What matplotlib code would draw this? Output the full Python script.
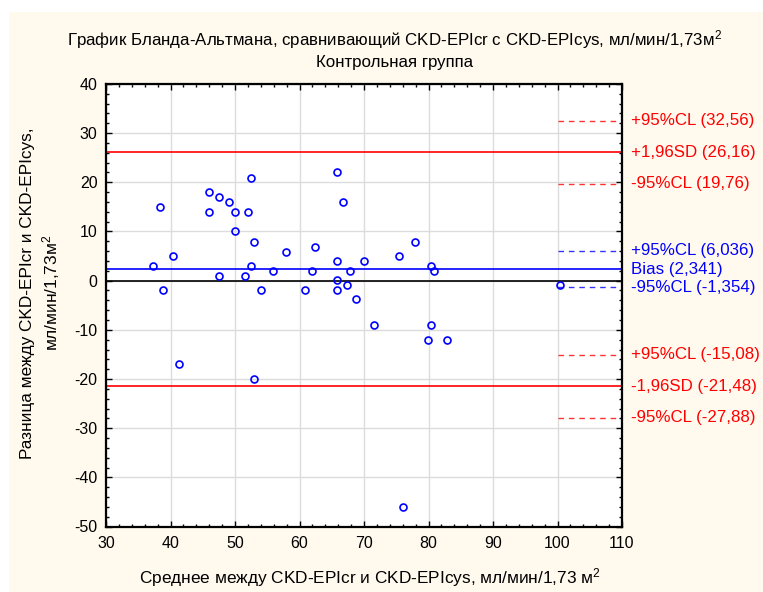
import matplotlib
matplotlib.use("Agg")
import matplotlib.pyplot as plt
from matplotlib.patches import Rectangle
from matplotlib.ticker import MultipleLocator

plt.rcParams['font.family'] = ['Liberation Sans', 'DejaVu Sans']
plt.rcParams['mathtext.fontset'] = 'custom'
plt.rcParams['mathtext.rm'] = 'Liberation Sans'
plt.rcParams['mathtext.it'] = 'Liberation Sans:italic'
plt.rcParams['axes.unicode_minus'] = False

# Data (means, differences)
mean_vals = [37.3, 38.3, 38.9, 40.4, 46.0, 46.0, 47.5, 47.5, 49.0, 50.0, 50.0, 51.5,
             52.0, 52.5, 52.5, 52.9, 54.0, 55.9, 57.9, 60.9, 61.9, 62.4, 65.8, 65.8,
             65.8, 65.8, 66.8, 67.3, 67.8, 68.8, 70.0, 75.5, 77.9, 80.4, 80.9,
             41.3, 52.9, 71.5, 80.4, 79.9, 82.9, 76.0, 100.4]
diff_vals = [3.0, 15.0, -1.9, 5.0, 18.0, 14.0, 17.0, 1.0, 16.0, 14.0, 10.1, 1.0,
             14.0, 20.9, 3.0, 7.9, -1.9, 2.0, 5.9, -1.9, 2.0, 6.9, 22.2, 3.9,
             0.1, -1.9, 16.0, -0.9, 2.0, -3.8, 3.9, 5.0, 7.9, 3.0, 2.0,
             -16.9, -20.1, -9.1, -9.1, -12.0, -12.0, -46.1, -0.9]

bias = 2.341
upper_sd = 26.16
lower_sd = -21.48
ci_values = [32.56, 19.76, 6.036, -1.354, -15.08, -27.88]
ci_colors = ['red', 'red', 'blue', 'blue', 'red', 'red']

label_values = [32.56, 26.16, 19.76, 6.036, 2.341, -1.354, -15.08, -21.48, -27.88]
label_texts = ['+95%CL (32,56)', '+1,96SD (26,16)', '-95%CL (19,76)',
               '+95%CL (6,036)', 'Bias (2,341)', '-95%CL (-1,354)',
               '+95%CL (-15,08)', '-1,96SD (-21,48)', '-95%CL (-27,88)']
label_colors = ['red', 'red', 'red', 'blue', 'blue', 'blue', 'red', 'red', 'red']

cream = '#FFF9EE'
fig = plt.figure(figsize=(7.63, 5.92), dpi=100, facecolor='white')
fig.patches.append(Rectangle((9/763, 0), 1, 1 - 12/592, transform=fig.transFigure,
                             facecolor=cream, edgecolor='none', zorder=-10))

ax = fig.add_axes([106/763, 1 - 526.5/592, (622 - 106)/763, (526.5 - 84)/592])
ax.set_facecolor('white')
ax.set_xlim(30, 110)
ax.set_ylim(-50, 40)
ax.xaxis.set_major_locator(MultipleLocator(10))
ax.yaxis.set_major_locator(MultipleLocator(10))
ax.xaxis.set_minor_locator(MultipleLocator(2))
ax.yaxis.set_minor_locator(MultipleLocator(2))
ax.grid(True, which='major', color='#DCDCDC', linewidth=1.0, zorder=0)
ax.set_axisbelow(True)
ax.tick_params(which='both', direction='in', top=True, right=True, labelsize=11.5,
               colors='black', width=1.0)
ax.tick_params(which='major', length=4)
ax.tick_params(which='minor', length=2.5)
ax.tick_params(axis='x', pad=7)
ax.tick_params(axis='y', pad=6)
for s in ax.spines.values():
    s.set_linewidth(1.6)
    s.set_color('black')

ax.axhline(0, color='black', linewidth=1.2, zorder=2)
ax.axhline(bias, color='blue', linewidth=1.2, zorder=2)
ax.axhline(upper_sd, color='red', linewidth=1.2, zorder=2)
ax.axhline(lower_sd, color='red', linewidth=1.2, zorder=2)
for v, c in zip(ci_values, ci_colors):
    ax.plot([100, 110], [v, v], color=c, linewidth=1.0, dashes=(4, 3.5), alpha=0.8, zorder=2)

ax.plot(mean_vals, diff_vals, linestyle='none', marker='o', markersize=5,
        markerfacecolor='none', markeredgecolor='blue', markeredgewidth=1.2, zorder=3)

for v, t, c in zip(label_values, label_texts, label_colors):
    ax.annotate(t, xy=(1, v), xycoords=('axes fraction', 'data'),
                xytext=(6.5, 0), textcoords='offset points', ha='left', va='center',
                color=c, fontsize=12.2, annotation_clip=False)

fig.text(395/763, 1 - 40/592,
         'График Бланда-Альтмана, сравнивающий CKD-EPIcr с CKD-EPIcys, мл/мин/1,73м$^2$',
         ha='center', va='center', fontsize=12.2)
fig.text(395/763, 1 - 62/592, 'Контрольная группа', ha='center', va='center', fontsize=12.2)

fig.text(370/763, 1 - 578/592,
         'Среднее между CKD-EPIcr и CKD-EPIcys, мл/мин/1,73 м$^2$',
         ha='center', va='center', fontsize=12.4)
fig.text(41/763, 1 - 293/592,
         'Разница между CKD-EPIcr и CKD-EPIcys,\nмл/мин/1,73м$^2$',
         ha='center', va='center', rotation=90, fontsize=12.4, linespacing=1.3)

fig.savefig('out.png', dpi=100, facecolor=fig.get_facecolor())
